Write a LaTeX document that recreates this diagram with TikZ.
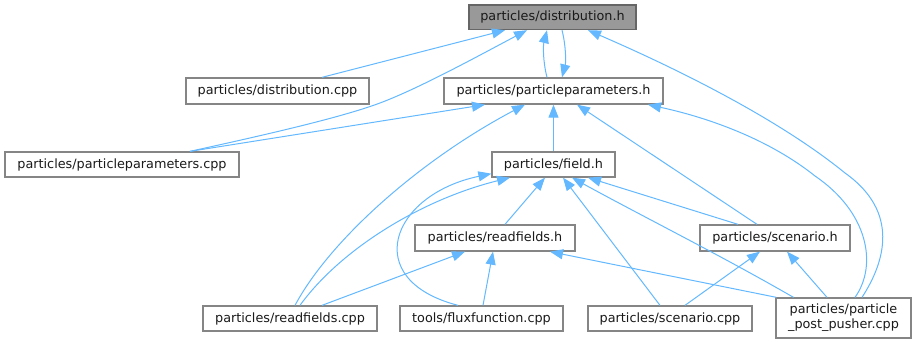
\documentclass[tikz,border=0pt]{standalone}
\usepackage{fontspec}
\setmainfont{DejaVu Sans}
\usetikzlibrary{arrows.meta}
\definecolor{edgecol}{HTML}{63B8FF}
\definecolor{boxcol}{HTML}{858585}
\definecolor{rootfill}{HTML}{999999}
\definecolor{rootdraw}{HTML}{666666}
\definecolor{txt}{HTML}{1A1A1A}
\tikzset{
  filebox/.style={draw=boxcol, line width=1.3pt, fill=white, inner sep=0pt,
    text=txt, font=\fontsize{12.8}{15}\selectfont, align=center},
  rootbox/.style={filebox, draw=rootdraw, fill=rootfill},
  inc/.style={draw=edgecol, line width=1pt,
    -{Triangle[length=13pt,width=10pt,fill=edgecol]}},
}
\begin{document}
\begin{tikzpicture}[x=1pt,y=-1pt]
\useasboundingbox (0,0) rectangle (916,344);
% nodes
\node[rootbox, minimum width=167pt, minimum height=24.5pt] (dh) at (552.5,17.3) {particles/distribution.h};
\node[filebox, minimum width=183pt, minimum height=26pt] (dcpp) at (277.5,91) {particles/distribution.cpp};
\node[filebox, minimum width=219pt, minimum height=26pt] (pph) at (553.5,91) {particles/particleparameters.h};
\node[filebox, minimum width=234pt, minimum height=25pt] (ppcpp) at (122,164.5) {particles/particleparameters.cpp};
\node[filebox, minimum width=123pt, minimum height=25pt] (fh) at (553.5,164.5) {particles/field.h};
\node[filebox, minimum width=160pt, minimum height=26pt] (rfh) at (495,238) {particles/readfields.h};
\node[filebox, minimum width=150pt, minimum height=26pt] (sh) at (775,238) {particles/scenario.h};
\node[filebox, minimum width=174pt, minimum height=25pt] (rfcpp) at (290,318.5) {particles/readfields.cpp};
\node[filebox, minimum width=163pt, minimum height=25pt] (ffcpp) at (481.5,318.5) {tools/fluxfunction.cpp};
\node[filebox, minimum width=164pt, minimum height=25pt] (scpp) at (670,318.5) {particles/scenario.cpp};
\node[filebox, minimum width=135pt, minimum height=40pt] (ppp) at (843.5,318) {particles/particle\\\_post\_pusher.cpp};
% edges to distribution.h
\draw[inc] ([xshift=44.5pt]dcpp.north) -- ([xshift=-47.5pt]dh.south);
\draw[inc] ([xshift=68pt]ppcpp.north) .. controls (260,136) and (340,118) .. (380,103) .. controls (420,88) and (480,55) .. ([xshift=-25.5pt]dh.south);
\draw[inc] ([xshift=-6.5pt]pph.north) .. controls (543,62) and (543,46) .. ([xshift=-5.5pt]dh.south);
\draw[inc] ([xshift=9.5pt]dh.south) .. controls (566,46) and (566,62) .. ([xshift=8.5pt]pph.north);
\draw[inc] ([xshift=18.5pt]ppp.north) .. controls (885,262) and (900,212) .. (845,173) .. controls (780,120) and (680,70) .. ([xshift=35.5pt]dh.south);
% edges to particleparameters.h
\draw[inc] ([xshift=68pt]ppcpp.north) -- ([xshift=-68.5pt]pph.south);
\draw[inc] (fh.north) -- (pph.south);
\draw[inc] ([xshift=5pt]rfcpp.north) .. controls (330,240) and (420,160) .. ([xshift=-28.5pt]pph.south);
\draw[inc] ([xshift=-18pt]sh.north) -- ([xshift=23.5pt]pph.south);
\draw[inc] ([xshift=11.5pt]ppp.north) .. controls (878,265) and (868,212) .. (815,176) .. controls (770,140) and (710,118) .. ([xshift=94.5pt]pph.south);
% edges to field.h
\draw[inc] ([xshift=-23.5pt]ffcpp.north) .. controls (360,280) and (390,195) .. ([yshift=4pt]fh.south west);
\draw[inc] ([xshift=10pt]rfcpp.north) .. controls (340,250) and (420,200) .. ([xshift=-43.5pt]fh.south);
\draw[inc] ([xshift=10pt]rfh.north) -- ([xshift=-8.5pt]fh.south);
\draw[inc] ([xshift=-10pt]scpp.north) -- ([xshift=9.5pt]fh.south);
\draw[inc] ([xshift=-50pt]ppp.north) .. controls (720,255) and (640,215) .. ([xshift=18.5pt]fh.south);
\draw[inc] ([xshift=-37pt]sh.north) -- ([xshift=34.5pt]fh.south);
% edges to readfields.h
\draw[inc] ([xshift=32pt]rfcpp.north) -- ([xshift=-30pt]rfh.south);
\draw[inc] ([xshift=1.5pt]ffcpp.north) -- ([xshift=-2pt]rfh.south);
\draw[inc] ([xshift=1pt]ppp.north west) -- ([xshift=55pt]rfh.south);
% edges to scenario.h
\draw[inc] ([xshift=15pt]scpp.north) -- ([xshift=-15pt]sh.south);
\draw[inc] ([xshift=-16.5pt]ppp.north) -- ([xshift=12pt]sh.south);
\end{tikzpicture}
\end{document}
